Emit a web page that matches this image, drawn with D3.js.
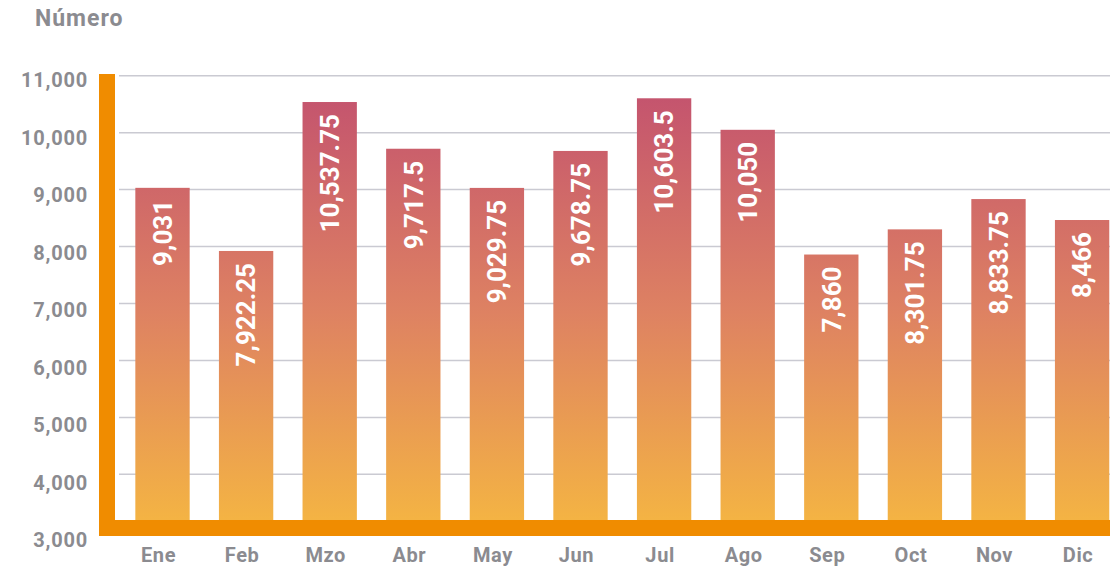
<!DOCTYPE html>
<html>
<head>
<meta charset="utf-8">
<script src="https://cdn.jsdelivr.net/npm/d3@7"></script>
<style>
  html, body { margin: 0; padding: 0; background: #ffffff; }
  svg { display: block; }
  text { font-family: Roboto, "Liberation Sans", sans-serif; font-weight: 700; }
</style>
</head>
<body>
<svg id="chart" width="1110" height="566"></svg>
<script>
// Monthly totals
const months = ["Ene", "Feb", "Mzo", "Abr", "May", "Jun", "Jul", "Ago", "Sep", "Oct", "Nov", "Dic"];
const values = [9031, 7922.25, 10537.75, 9717.5, 9029.75, 9678.75, 10603.5, 10050, 7860, 8301.75, 8833.75, 8466];
const yTicks = [3000, 4000, 5000, 6000, 7000, 8000, 9000, 10000, 11000];
const valueLabels = ["9,031", "7,922.25", "10,537.75", "9,717.5", "9,029.75", "9,678.75", "10,603.5", "10,050", "7,860", "8,301.75", "8,833.75", "8,466"];
const yTitle = "Número";

const svg = d3.select("#chart");
const W = 1110, H = 566;

const x = d3.scaleBand()
  .domain(months)
  .range([120.7, 1123.9])
  .paddingInner(0.35)
  .paddingOuter(0.175);

const y = d3.scaleLinear().domain([3000, 11000]).range([531.3, 75.7]);
// tick labels sit slightly below their gridlines, drifting a little toward the base
const yLab = d3.scaleLinear().domain([3000, 11000]).range([540, 80]);

// vertical colour ramp shared by all bars
const defs = svg.append("defs");
const grad = defs.append("linearGradient")
  .attr("id", "barGrad")
  .attr("gradientUnits", "userSpaceOnUse")
  .attr("x1", 0).attr("x2", 0)
  .attr("y1", y(10650)).attr("y2", y(3000));
grad.append("stop").attr("offset", "0%").attr("stop-color", "#c4546e");
grad.append("stop").attr("offset", "50%").attr("stop-color", "#de8262");
grad.append("stop").attr("offset", "100%").attr("stop-color", "#f5b642");

// gridlines
svg.append("g")
  .selectAll("line")
  .data(yTicks.filter(d => d > 3000))
  .join("line")
  .attr("x1", 119).attr("x2", W)
  .attr("y1", d => y(d)).attr("y2", d => y(d))
  .attr("stroke", "#cacad2")
  .attr("stroke-width", 1.5);

// bars
svg.append("g")
  .selectAll("rect")
  .data(values)
  .join("rect")
  .attr("x", (d, i) => x(months[i]))
  .attr("width", x.bandwidth())
  .attr("y", d => y(d))
  .attr("height", d => y(3000) - y(d))
  .attr("fill", "url(#barGrad)");

// value labels, rotated, reading upward from near the bar top
svg.append("g")
  .selectAll("text")
  .data(values)
  .join("text")
  .attr("transform", (d, i) => `translate(${x(months[i]) + x.bandwidth() / 2},${y(d) + 12}) rotate(-90)`)
  .attr("text-anchor", "end")
  .attr("dy", "0.36em")
  .attr("fill", "#ffffff")
  .style("font-size", "26px")
  .text((d, i) => valueLabels[i]);

// orange L-shaped frame
const frame = svg.append("g").attr("fill", "#f08c00");
frame.append("rect").attr("x", 99).attr("y", 74).attr("width", 16).attr("height", 536 - 74);
frame.append("rect").attr("x", 99).attr("y", 520).attr("width", W - 99).attr("height", 16);

// y tick labels
svg.append("g")
  .selectAll("text")
  .data(yTicks)
  .join("text")
  .attr("x", 88)
  .attr("y", d => yLab(d))
  .attr("dy", "0.36em")
  .attr("text-anchor", "end")
  .attr("fill", "#8b8b90")
  .style("font-size", "20px")
  .style("letter-spacing", "0.8px")
  .text(d => d3.format(",")(d));

// month labels
svg.append("g")
  .selectAll("text")
  .data(months)
  .join("text")
  .attr("x", d => x(d) + x.bandwidth() / 2 - 4)
  .attr("y", 562)
  .attr("text-anchor", "middle")
  .attr("fill", "#8b8b90")
  .style("font-size", "20px")
  .style("letter-spacing", "0.6px")
  .text(d => d);

// axis title
svg.append("text")
  .attr("x", 35)
  .attr("y", 26)
  .attr("fill", "#8b8b90")
  .style("font-size", "23px")
  .style("letter-spacing", "1px")
  .text(yTitle);
</script>
</body>
</html>
